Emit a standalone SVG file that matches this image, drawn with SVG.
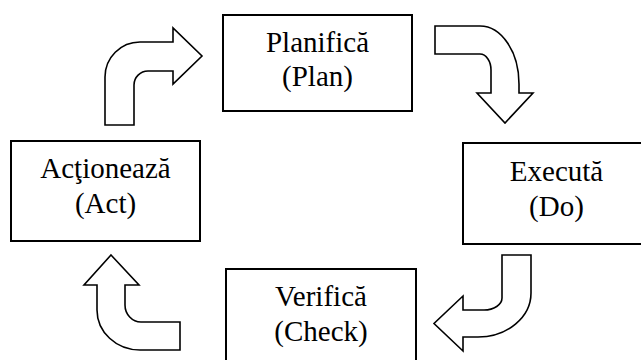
<svg xmlns="http://www.w3.org/2000/svg" width="641" height="360" viewBox="0 0 641 360">
<style>
.box{fill:#fff;stroke:#000;stroke-width:2}
.arr{fill:#fff;stroke:#000;stroke-width:1.6;stroke-linejoin:miter}
text{font-family:'Liberation Serif','Times New Roman',serif;font-size:29px;fill:#000;text-anchor:middle}
</style>
<rect width="641" height="360" fill="#fff"/>
<g id="connectors">
<path class="arr" d="M105,125 L105,77 A35,35 0 0 1 140,42 L173,42 L173,28 L202,56 L173,84 L173,71 L148,71 A14,14 0 0 0 134,85 L134,125 Z"/>
<path class="arr" d="M435,26 L480,26 A39,58 0 0 1 519,84 L519,93 L533,93 L505,123 L477,93 L491,93 L491,70 A11,16 0 0 0 480,54 L435,54 Z"/>
<path class="arr" d="M502,255 L531,255 L531,293 A53,44 0 0 1 478,337 L463,337 L463,351 L434,323.5 L463,296 L463,310 L484,310 A18,12 0 0 0 502,298 Z"/>
<path class="arr" d="M111,255 L139,285 L125,285 L125,305 A16,17 0 0 0 141,322 L180,322 L180,350 L140,350 A43,40 0 0 1 97,310 L97,285 L84,285 Z"/>
</g>
<g id="plan">
<rect class="box" x="223" y="15" width="189" height="96"/>
<text x="317.5" y="52">Planifică</text>
<text x="317.5" y="86">(Plan)</text>
</g>
<g id="do">
<rect class="box" x="463" y="143" width="188" height="101"/>
<text x="556.5" y="181">Execută</text>
<text x="556.5" y="216">(Do)</text>
</g>
<g id="check">
<rect class="box" x="226" y="269" width="190" height="100"/>
<text x="321" y="306">Verifică</text>
<text x="321" y="341">(Check)</text>
</g>
<g id="act">
<rect class="box" x="11" y="141" width="189" height="100"/>
<text x="105.5" y="178">Acţionează</text>
<text x="105.5" y="213">(Act)</text>
</g>
</svg>
